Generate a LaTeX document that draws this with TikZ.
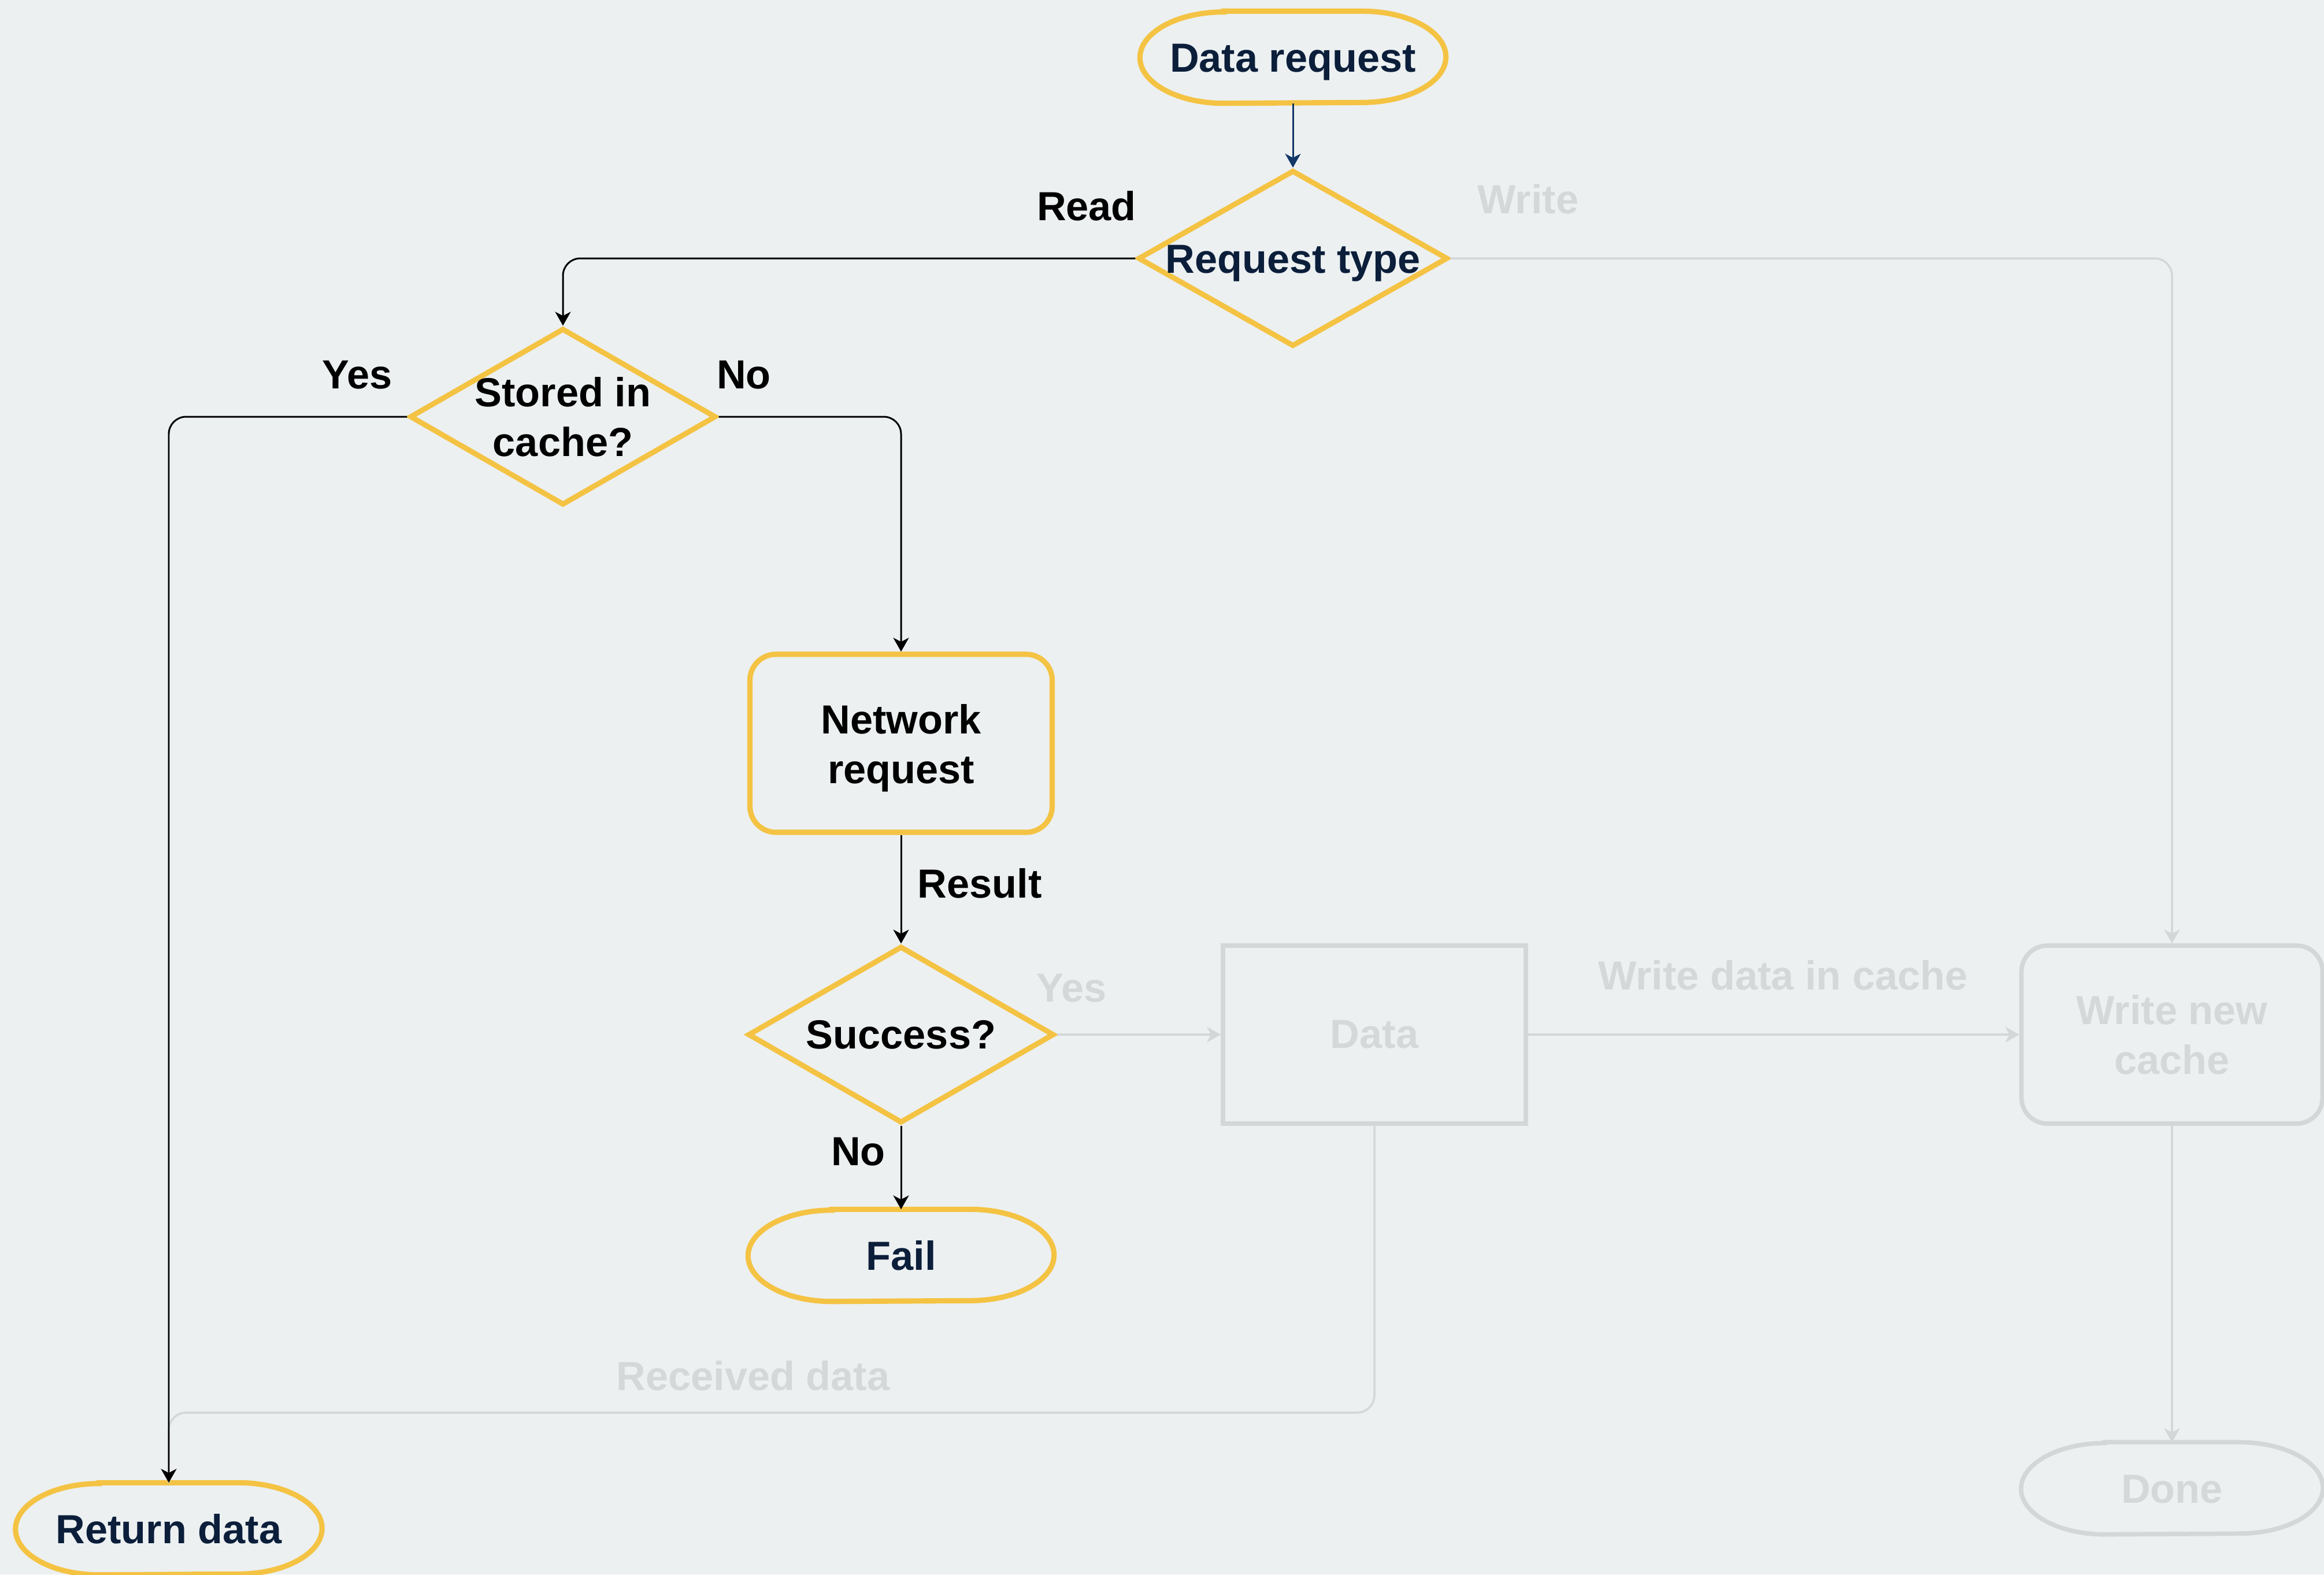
\documentclass[tikz,border=0pt]{standalone}
\usepackage{fontspec}
\setmainfont{Liberation Sans}
\usetikzlibrary{shapes.geometric,arrows.meta,calc}

\definecolor{bgc}{HTML}{ECF0F1}
\definecolor{ylw}{HTML}{F4C343}
\definecolor{navy}{HTML}{0B1E3A}
\definecolor{navyline}{HTML}{123766}
\definecolor{faint}{HTML}{D4D7D8}
\definecolor{fainttxt}{HTML}{D5D8D9}

% outline of a terminal (start/end) node: straight top and bottom, elliptic ends
\newcommand\termoutline[2]{%
  \draw[#2] ($(#1.north west)+(1.45,0)$) -- ($(#1.north east)+(-1.45,0)$)
    arc[start angle=90,end angle=-90,x radius=1.45cm,y radius=0.79cm]
    -- ($(#1.south west)+(1.45,0)$)
    arc[start angle=270,end angle=90,x radius=1.45cm,y radius=0.79cm] -- cycle;}

\tikzset{
  txt/.style={font=\fontsize{20}{24.5}\selectfont\bfseries, align=center},
  capcentre/.style={text height=14.3pt, text depth=0pt},
  terminal/.style={rectangle, minimum width=5.28cm, minimum height=1.58cm, inner sep=0pt, txt, capcentre},
  decision/.style={diamond, draw=ylw, line width=2.6pt, minimum width=5.3cm, minimum height=3.06cm, inner sep=0pt},
  process/.style={rectangle, rounded corners=0.45cm, draw=ylw, line width=2.6pt, minimum width=5.23cm, minimum height=3.08cm, inner sep=0pt},
  ghostbox/.style={rectangle, draw=faint, line width=2.2pt, minimum width=5.24cm, minimum height=3.08cm, inner sep=0pt, txt, text=fainttxt},
  yline/.style={draw=ylw, line width=2.6pt},
  gline/.style={draw=faint, line width=2.2pt},
  tip/.style={-{Stealth[length=0.24cm,width=0.27cm,inset=0.07cm]}},
  conn/.style={black, line width=0.85pt, rounded corners=0.3cm, tip},
  ghostconn/.style={faint, line width=1pt, rounded corners=0.3cm, tip},
  lbl/.style={txt, text=black},
  ghostlbl/.style={txt, text=fainttxt},
}

\begin{document}
\begin{tikzpicture}
  \fill[bgc] (0,0) rectangle (40.21,-27.24);
  \useasboundingbox (0,0) rectangle (40.21,-27.24);

  % main flow
  \node[terminal, text=navy] (dreq) at (22.37,-0.99) {Data request};
  \termoutline{dreq}{yline}
  \node[decision, minimum width=5.36cm, minimum height=3.05cm,
        label={[txt, capcentre, text=navy]center:Request type}] (rtype) at (22.37,-4.47) {};
  \node[decision, label={[txt, text=black]center:Stored in\\cache?}] (store) at (9.74,-7.21) {};
  \node[process, label={[txt, text=black, yshift=-0.08cm]center:Network\\request}] (net) at (15.59,-12.86) {};
  \node[decision, label={[txt, text=black]center:Success?}] (succ) at (15.59,-17.90) {};
  \node[terminal, text=navy] (fail) at (15.59,-21.72) {Fail};
  \termoutline{fail}{yline}
  \node[terminal, minimum width=5.29cm, text=navy] (ret) at (2.92,-26.45) {Return data};
  \termoutline{ret}{yline}

  % write branch (faded)
  \node[ghostbox] (data) at (23.78,-17.90) {Data};
  \node[ghostbox, rounded corners=0.45cm, minimum width=5.21cm] (wnc) at (37.58,-17.90) {Write new\\cache};
  \node[terminal, minimum width=5.21cm, text=fainttxt] (done) at (37.58,-25.75) {Done};
  \termoutline{done}{gline}
  \coordinate (rcvturn) at (23.78,-24.44);

  % faded connectors
  \draw[faint, line width=1pt, rounded corners=0.3cm] (data.south) -- (rcvturn) -| (ret.north);
  \draw[ghostconn] (succ.east) -- (data.west);
  \draw[ghostconn] (data.east) -- (wnc.west);
  \draw[ghostconn] (rtype.east) -| (wnc.north);
  \draw[ghostconn] (wnc.south) -- (done.north);

  % main connectors
  \draw[navyline, line width=0.85pt, tip] (dreq.south) -- (rtype.north);
  \draw[conn] (rtype.west) -| (store.north);
  \draw[conn] (store.west) -| (ret.north);
  \draw[conn] (store.east) -| (net.north);
  \draw[conn] (net.south) -- (succ.north);
  \draw[conn] (succ.south) -- (fail.north);

  % connector labels
  \node[lbl] (lread) at (18.80,-3.56) {Read};
  \node[ghostlbl] (lwrite) at (26.44,-3.44) {Write};
  \node[lbl] (lyes) at (6.18,-6.49) {Yes};
  \node[lbl] (lno) at (12.87,-6.49) {No};
  \node[lbl] (lres) at (16.95,-15.28) {Result};
  \node[ghostlbl] (lsyes) at (18.54,-17.10) {Yes};
  \node[lbl] (lsno) at (14.85,-19.93) {No};
  \node[ghostlbl] (lwdc) at (30.85,-16.87) {Write data in cache};
  \node[ghostlbl] (lrcv) at (13.03,-23.80) {Received data};
\end{tikzpicture}
\end{document}
